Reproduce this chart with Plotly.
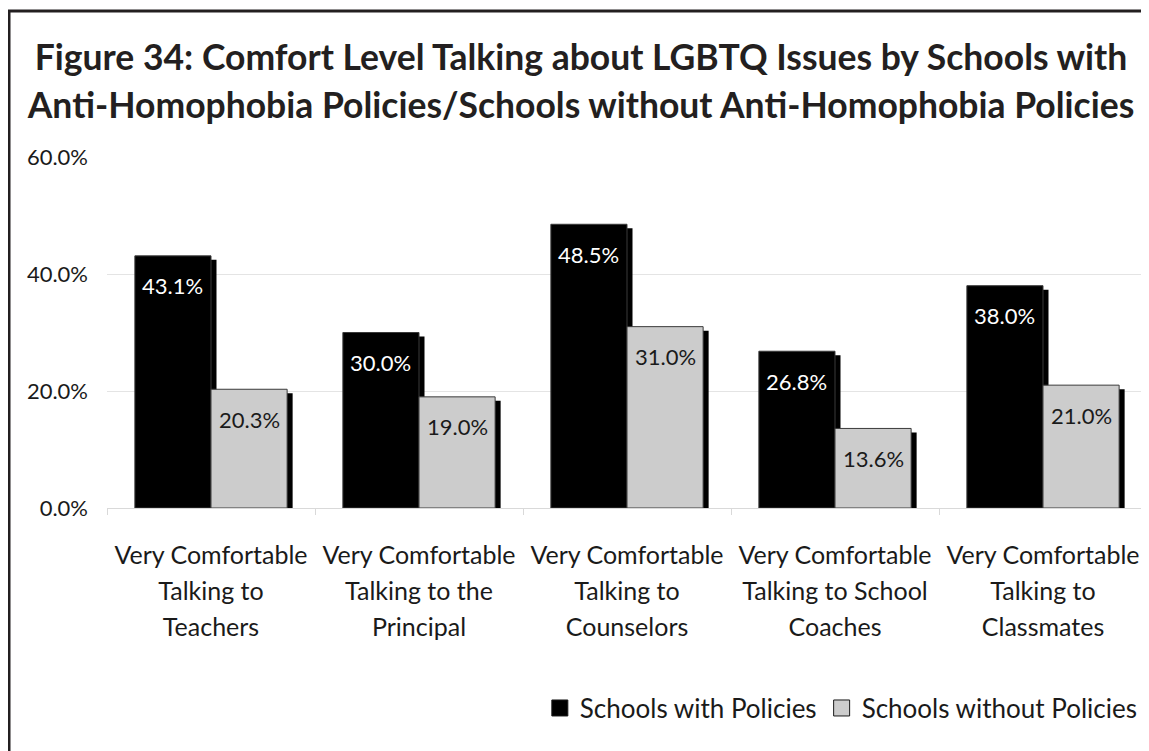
import plotly.graph_objects as go

# ---------------- data ----------------
categories = [
    "Very Comfortable Talking to Teachers",
    "Very Comfortable Talking to the Principal",
    "Very Comfortable Talking to Counselors",
    "Very Comfortable Talking to School Coaches",
    "Very Comfortable Talking to Classmates",
]
tick_lines = [
    ["Very Comfortable", "Talking to", "Teachers"],
    ["Very Comfortable", "Talking to the", "Principal"],
    ["Very Comfortable", "Talking to", "Counselors"],
    ["Very Comfortable", "Talking to School", "Coaches"],
    ["Very Comfortable", "Talking to", "Classmates"],
]
with_policies = [43.1, 30.0, 48.5, 26.8, 38.0]
without_policies = [20.3, 19.0, 31.0, 13.6, 21.0]
series_names = ["Schools with Policies", "Schools without Policies"]
y_ticks = [0, 20, 40, 60]
title_lines = [
    "Figure 34: Comfort Level Talking about LGBTQ Issues by Schools with",
    "Anti-Homophobia Policies/Schools without Anti-Homophobia Policies",
]

# ---------------- styling / geometry ----------------
VW, VH = 1149, 751
BODY = 8                       # default page margin around the figure
W, H = VW - BODY, VH - BODY
# plot area in viewport pixels
PL, PR, PT, PB = 107, 1147, 157, 508
ML, MR, MT, MB = PL - BODY, W - (PR - BODY), PT - BODY, H - (PB - BODY)
plot_w = W - ML - MR
plot_h = H - MT - MB
cat_px = plot_w / len(categories)
y_max = 60
BAR_W = 0.366                       # in category units
SHADOW_DX = 5.5 / cat_px            # shadow offset to the right
SHADOW_DY = 4 * y_max / plot_h      # shadow offset downwards
FONT = "Lato, 'Open Sans', sans-serif"
TXT = "#1a1a1a"

fills = ["#000000", "#cccccc"]
label_colors = ["#ffffff", "#1a1a1a"]
offsets = [-BAR_W, 0.0]
series = [with_policies, without_policies]

fig = go.Figure()

# shadows first
for vals, off in zip(series, offsets):
    fig.add_trace(go.Bar(
        x=categories, y=[v - SHADOW_DY for v in vals],
        offset=off + SHADOW_DX, width=BAR_W,
        marker=dict(color="#000000", line=dict(width=0)),
        showlegend=False, hoverinfo="skip",
    ))

# main bars
for vals, off, fc, name in zip(series, offsets, fills, series_names):
    fig.add_trace(go.Bar(
        x=categories, y=vals, offset=off, width=BAR_W, name=name,
        marker=dict(color=fc, line=dict(color="#3a3a3a", width=1)),
        showlegend=False,
    ))

# legend entries (square keys)
for fc, name in zip(fills, series_names):
    fig.add_trace(go.Scatter(
        x=[None], y=[None], mode="markers", name=name,
        marker=dict(symbol="square", size=16, color=fc,
                    line=dict(color="#1a1a1a", width=1)),
    ))

# data labels
half_px = BAR_W * cat_px / 2
for vals, off, lc in zip(series, offsets, label_colors):
    xs = -half_px if off < 0 else half_px
    for c, v in zip(categories, vals):
        fig.add_annotation(
            x=c, y=v, xshift=xs, yshift=-30, text=f"{v:.1f}%",
            showarrow=False, yanchor="middle", xanchor="center",
            font=dict(family=FONT, size=22, color=lc),
        )

ticktext = ["<br>".join(f"<span style='font-size:25px'>{l}</span>" for l in lines)
            for lines in tick_lines]
title_text = "<br>".join(f"<span style='font-size:35.5px'>{t}</span>" for t in title_lines)

fig.update_layout(
    width=W, height=H,
    margin=dict(l=ML, r=MR, t=MT, b=MB),
    paper_bgcolor="white", plot_bgcolor="white",
    barmode="overlay",
    title=dict(text=title_text, x=(581 - BODY) / W, xanchor="center", xref="container",
               y=1 - (70 - BODY) / H, yanchor="middle", yref="container",
               font=dict(family=FONT, size=37, color="#231f20", weight="bold")),
    xaxis=dict(
        type="category", categoryorder="array", categoryarray=categories,
        tickmode="array", tickvals=categories, ticktext=ticktext,
        tickson="boundaries", ticks="outside", ticklen=6, tickcolor="#d9d9d9",
        showline=True, linecolor="#d9d9d9", linewidth=1, showgrid=False,
        tickfont=dict(family=FONT, size=28, color=TXT), tickangle=0,
        ticklabelstandoff=21,
    ),
    yaxis=dict(
        range=[0, y_max], tickmode="array", tickvals=y_ticks,
        ticktext=[f"{v:.1f}%" for v in y_ticks],
        showgrid=True, gridcolor="#e4e4e4", gridwidth=1, zeroline=False,
        showline=False, ticks="", ticklabelstandoff=18,
        tickfont=dict(family=FONT, size=22, color=TXT),
    ),
    legend=dict(orientation="h", x=0.996, xanchor="right", y=-0.57, yanchor="middle",
                font=dict(family=FONT, size=26, color=TXT), bgcolor="rgba(0,0,0,0)",
                itemsizing="trace"),
    shapes=[dict(type="rect", xref="paper", yref="paper",
                 x0=(9 - BODY - ML) / plot_w, x1=1.03, y0=-0.8,
                 y1=(MT + plot_h - (11 - BODY)) / plot_h,
                 line=dict(color="#231f20", width=3), fillcolor="rgba(0,0,0,0)", layer="above")],
)

fig.write_html("out.html")
